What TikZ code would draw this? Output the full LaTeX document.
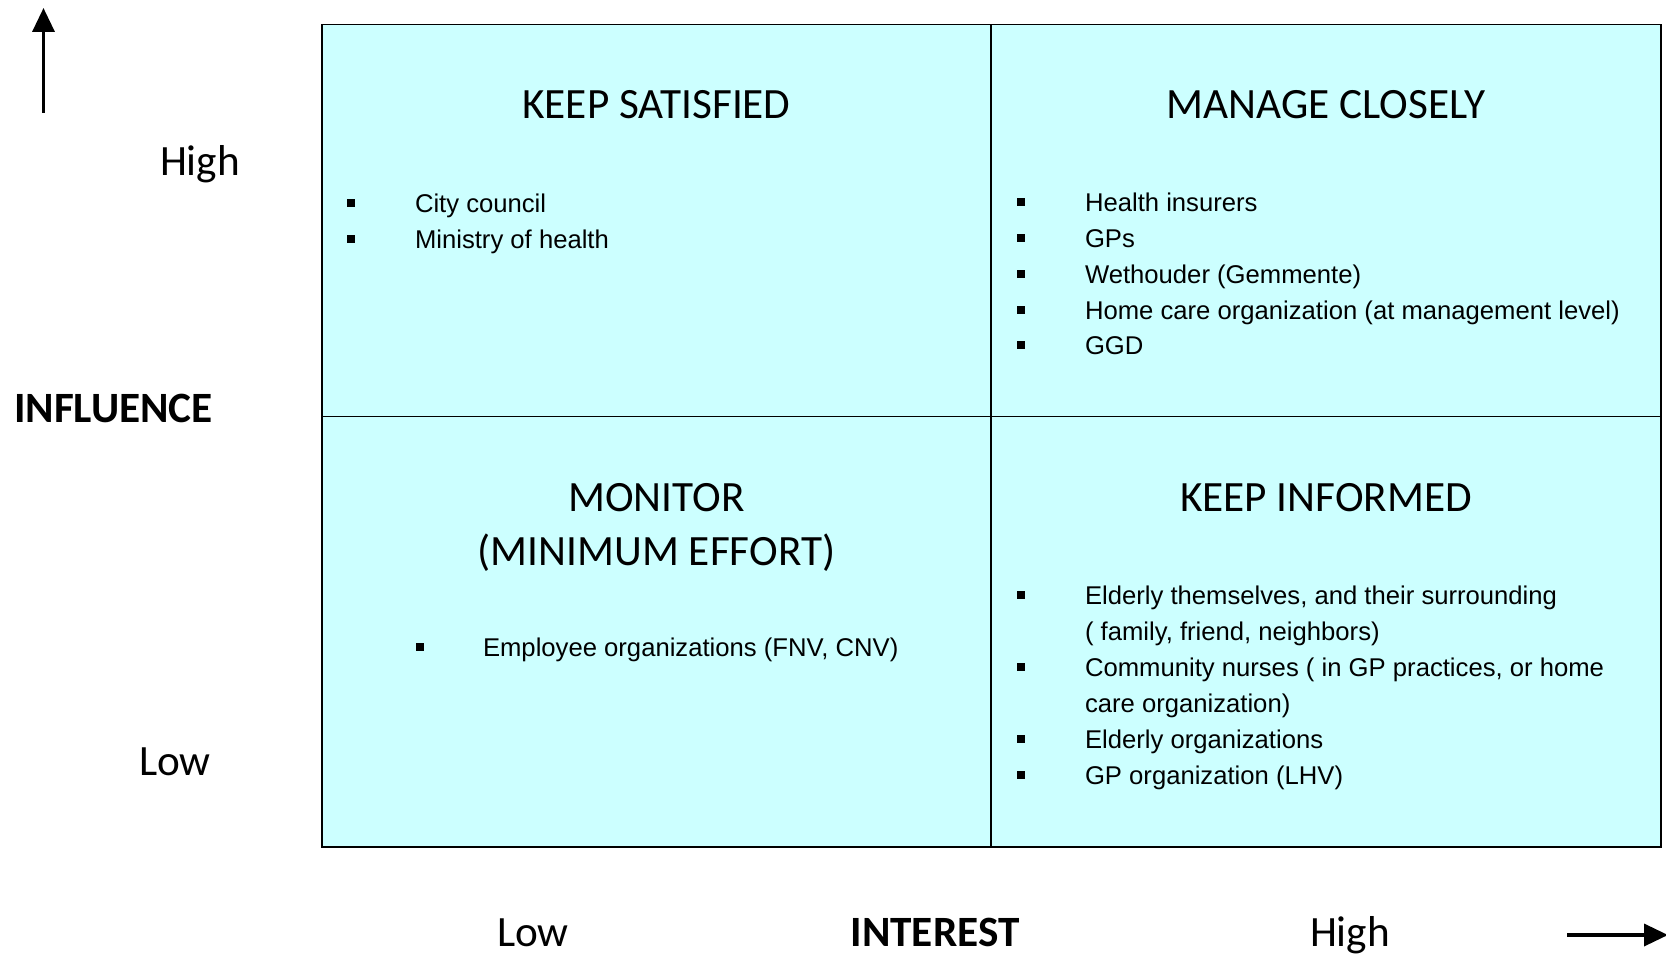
\documentclass[tikz,border=0pt]{standalone}
\usepackage{fontspec}
\setmainfont{Carlito}
\newfontfamily\itemfont{Liberation Sans}
\usetikzlibrary{arrows.meta}
\definecolor{quadfill}{RGB}{204,255,255}

\begin{document}
\begin{tikzpicture}[
  every node/.style={inner sep=0pt, outer sep=0pt},
  quad/.style={draw, fill=quadfill, line width=1.1pt, anchor=north west},
  heading/.style={anchor=base, font=\fontsize{24.6}{29}\selectfont},
  axislabel/.style={anchor=base, font=\fontsize{24.6}{29}\selectfont},
  axisbold/.style={axislabel, font=\fontsize{24.6}{29}\selectfont\bfseries},
  entry/.style={anchor=base west, font=\itemfont\fontsize{14.6}{17}\selectfont},
  dot/.style={fill=black, minimum size=0.16cm},
  axis/.style={line width=2pt, -{Triangle[length=0.48cm, width=0.44cm]}}
]
\useasboundingbox (0,0) rectangle (33.32,19.10);

% the four quadrants
\node[quad, minimum width=13.38cm, minimum height=7.84cm] (ks) at (6.44,18.61) {};
\node[quad, minimum width=13.40cm, minimum height=7.84cm] (mc) at (19.82,18.61) {};
\node[quad, minimum width=13.38cm, minimum height=8.61cm] (mon) at (6.44,10.77) {};
\node[quad, minimum width=13.40cm, minimum height=8.61cm] (ki) at (19.82,10.77) {};

% headings
\node[heading] (ks-title) at (13.13,16.72) {KEEP SATISFIED};
\node[heading] (mc-title) at (26.52,16.72) {MANAGE CLOSELY};
\node[heading] (mon-title) at (13.13,8.88) {MONITOR};
\node[heading] (mon-sub) at (13.13,7.80) {(MINIMUM EFFORT)};
\node[heading] (ki-title) at (26.52,8.88) {KEEP INFORMED};

% stakeholders
\foreach \txt [count=\i from 0] in {City council, Ministry of health} {
  \node[dot] (ks-dot\i) at (7.02,{15.04-0.715*\i}) {};
  \node[entry] (ks-item\i) at (8.30,{14.85-0.715*\i}) {\txt};
}
\foreach \txt [count=\i from 0] in {Health insurers, GPs, Wethouder (Gemmente),
    Home care organization (at management level), GGD} {
  \node[dot] (mc-dot\i) at (20.41,{15.05-0.715*\i}) {};
  \node[entry] (mc-item\i) at (21.70,{14.86-0.715*\i}) {\txt};
}
\node[dot] (mon-dot) at (8.40,6.17) {};
\node[entry] (mon-item) at (9.66,5.98) {Employee organizations (FNV, CNV)};
\foreach \txt/\b [count=\i from 0] in {
    {Elderly themselves, and their surrounding}/1,
    {( family, friend, neighbors)}/0,
    {Community nurses ( in GP practices, or home}/1,
    {care organization)}/0,
    {Elderly organizations}/1,
    {GP organization (LHV)}/1} {
  \ifnum\b=1 \node[dot] (ki-dot\i) at (20.41,{7.21-0.72*\i}) {}; \fi
  \node[entry] (ki-item\i) at (21.70,{7.02-0.72*\i}) {\txt};
}

% axes
\node[axislabel] (y-high) at (4.0,15.58) {High};
\node[axisbold, anchor=base west] (y-name) at (0.28,10.64) {INFLUENCE};
\node[axislabel] (y-low) at (3.5,3.6) {Low};
\node[axislabel] (x-low) at (10.66,0.18) {Low};
\node[axisbold] (x-name) at (18.70,0.18) {INTEREST};
\node[axislabel] (x-high) at (27.0,0.18) {High};

\coordinate (y-from) at (0.87,16.84);
\coordinate (y-to) at (0.87,18.94);
\coordinate (x-from) at (31.34,0.40);
\coordinate (x-to) at (33.36,0.40);
\draw[axis] (y-from) -- (y-to);
\draw[axis] (x-from) -- (x-to);
\end{tikzpicture}
\end{document}
